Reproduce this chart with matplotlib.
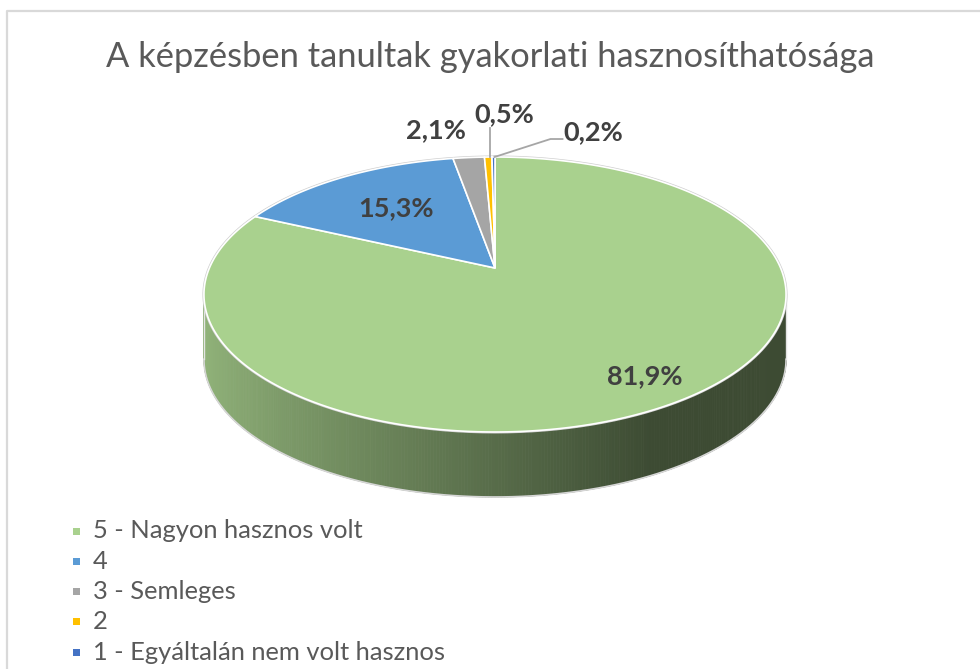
import numpy as np
import matplotlib
matplotlib.use("Agg")
import matplotlib.pyplot as plt
from matplotlib.patches import Polygon, Rectangle

# ---- data ----
title = "A képzésben tanultak gyakorlati hasznosíthatósága"
categories = ["5 - Nagyon hasznos volt", "4", "3 - Semleges", "2",
              "1 - Egyáltalán nem volt hasznos"]
values = [81.9, 15.3, 2.1, 0.5, 0.2]
value_labels = ["81,9%", "15,3%", "2,1%", "0,5%", "0,2%"]
colors = ["#A9D18E", "#5B9BD5", "#A5A5A5", "#FFC000", "#4472C4"]

FONT = "Lato"
TITLE_C = "#595959"
LABEL_C = "#404040"

W, H = 980, 669
fig = plt.figure(figsize=(W / 100, H / 100), dpi=100)
ax = fig.add_axes([0, 0, 1, 1])
ax.set_xlim(0, W)
ax.set_ylim(H, 0)
ax.axis("off")
renderer = fig.canvas.get_renderer()

# chart frame
ax.plot([7, 7, W], [H, 11, 11], color="#D9D9D9", lw=1.6, solid_capstyle="butt")

# ---- 3D pie geometry (perspective) ----
CX, CY = 495.0, 268.0
RA, RB, PC = 285.6, 80.74, 0.1927
DEPTH = 65.0


def proj(phi_deg, r=1.0):
    phi = np.radians(phi_deg)
    u = r * np.sin(phi)
    v = r * np.cos(phi)
    d = 1 + PC * v
    return CX + RA * u / d, (CY - RB * v) / d


def to_rgb(c):
    return np.array(matplotlib.colors.to_rgb(c))


total = float(sum(values))
bounds = np.concatenate([[0], np.cumsum(values)]) / total * 360.0

# side wall (front half only)
step = 0.5
for i, col in enumerate(colors):
    a0, a1 = bounds[i], bounds[i + 1]
    angs = np.arange(a0, a1 + 1e-9, step)
    if angs[-1] < a1:
        angs = np.append(angs, a1)
    base = to_rgb(col)
    for p0, p1 in zip(angs[:-1], angs[1:]):
        pm = 0.5 * (p0 + p1)
        if np.cos(np.radians(pm)) > 0.03:
            continue
        x0, y0 = proj(p0)
        x1, y1 = proj(p1)
        u = np.sin(np.radians(pm))
        s = np.clip((u + 0.95) / 1.4, 0, 1)
        f = 0.85 - 0.49 * s
        c = np.clip(base * f, 0, 1)
        ax.add_patch(Polygon([[x0, y0], [x1, y1], [x1, y1 + DEPTH], [x0, y0 + DEPTH]],
                             closed=True, facecolor=c, edgecolor=c, lw=0.6, zorder=2))

# outline of side wall
front = np.linspace(90 + 11, 270 - 11, 200)
fx, fy = proj(front)
ax.plot(fx, fy + DEPTH, color="#D6D6D6", lw=1.2, zorder=3)
for pe in (90 + 11, 270 - 11):
    ex, ey = proj(pe)
    ax.plot([ex, ex], [ey, ey + DEPTH], color="#E4E4E4", lw=1.0, zorder=3)

# top face outline
full = np.linspace(0, 360, 721)
ox, oy = proj(full)
ax.plot(ox, oy, color="#CFCFCF", lw=2.2, zorder=4)

# top face slices
for i, col in enumerate(colors):
    a0, a1 = bounds[i], bounds[i + 1]
    angs = np.linspace(a0, a1, max(int((a1 - a0) / 0.5) + 2, 3))
    px, py = proj(angs)
    pts = np.column_stack([np.concatenate([[CX], px]), np.concatenate([[CY], py])])
    ax.add_patch(Polygon(pts, closed=True, facecolor=col, edgecolor="white",
                         lw=1.2, joinstyle="miter", zorder=5))


# ---- text helpers ----
def fit_text(x, y, s, width, size0, **kw):
    t = ax.text(x, y, s, fontsize=size0, **kw)
    w = t.get_window_extent(renderer).width
    size = size0 * width / w
    t.set_fontsize(size)
    return t, size


# title
fit_text(W / 2, 57, title, 768, 24, ha="center", va="center",
         color=TITLE_C, family=FONT, zorder=10)

# data labels
mid = 0.5 * (bounds[:-1] + bounds[1:])
_, lab_size = fit_text(*proj(mid[0], 0.84), value_labels[0], 76, 18,
                       ha="center", va="center", color=LABEL_C,
                       family=FONT, fontweight="bold", zorder=10)
ax.text(*proj(mid[1], 0.62), value_labels[1], fontsize=lab_size, ha="center",
        va="center", color=LABEL_C, family=FONT, fontweight="bold", zorder=10)

# small outside labels
rx, ry = proj(mid[2])
ax.text(rx - 33, ry - 27, value_labels[2], fontsize=lab_size, ha="center",
        va="center", color=LABEL_C, family=FONT, fontweight="bold", zorder=10)

rx, ry = proj(mid[3])
ax.plot([rx + 2, rx + 2], [ry, ry - 29], color="#A6A6A6", lw=1.3, zorder=9)
ax.text(rx + 16, ry - 43, value_labels[3], fontsize=lab_size, ha="center",
        va="center", color=LABEL_C, family=FONT, fontweight="bold", zorder=10)

rx, ry = proj(mid[4])
ax.plot([rx + 1, rx + 57, rx + 69], [ry, ry - 18, ry - 18], color="#A6A6A6",
        lw=1.3, zorder=9)
ax.text(rx + 70, ry - 25, value_labels[4], fontsize=lab_size, ha="left",
        va="center", color=LABEL_C, family=FONT, fontweight="bold", zorder=10)

# legend
leg_x, leg_y0, leg_dy = 93, 531, 30.3
_, leg_size = fit_text(leg_x, leg_y0, categories[0], 270, 15, ha="left",
                       va="center", color=TITLE_C, family=FONT, zorder=10)
for i, (cat, col) in enumerate(zip(categories, colors)):
    y = leg_y0 + i * leg_dy
    ax.add_patch(Rectangle((73, y - 3.5), 7, 7, facecolor=col, edgecolor="none",
                           zorder=10))
    if i > 0:
        ax.text(leg_x, y, cat, fontsize=leg_size, ha="left", va="center",
                color=TITLE_C, family=FONT, zorder=10)

fig.savefig("out.png", dpi=100)
